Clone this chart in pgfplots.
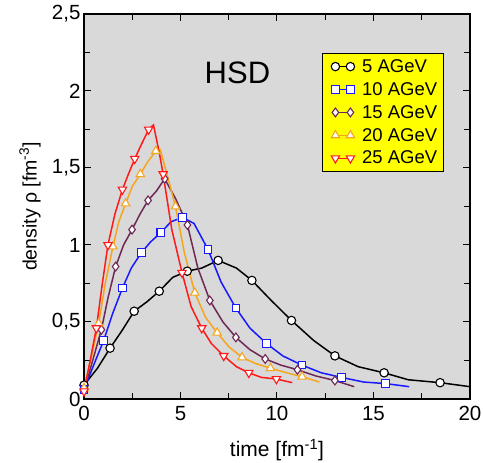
\documentclass[border=0pt]{standalone}
\usepackage{fontspec}
\setmainfont{Liberation Sans}
\usepackage{pgfplots}
\pgfplotsset{compat=1.18}
\definecolor{bgray}{RGB}{217,217,217}
\definecolor{cblue}{RGB}{25,25,255}
\definecolor{cpurple}{RGB}{110,40,85}
\definecolor{corange}{RGB}{245,165,30}
\definecolor{cred}{RGB}{255,25,25}
\definecolor{lyellow}{RGB}{255,255,0}
\begin{document}
\begin{tikzpicture}
\begin{axis}[
  at={(0,0)}, anchor=south west,
  scale only axis,
  width=386pt, height=385pt,
  xmin=0, xmax=20, ymin=0, ymax=2.5,
  xtick={0,5,10,15,20}, xticklabels={0,5,10,15,20},
  ytick={0,0.5,1,1.5,2,2.5}, yticklabels={0,{0,5},1,{1,5},2,{2,5}},
  minor x tick num=1, minor y tick num=1,
  tick align=inside,
  major tick length=7pt, minor tick length=6pt,
  every tick/.style={black, line width=1pt},
  axis line style={line width=1.5pt},
  axis background/.style={fill=bgray},
  tick label style={font=\fontsize{20.5}{24}\selectfont},
  xticklabel style={yshift=-4pt},
  xlabel={time [fm\textsuperscript{-1}]},
  ylabel={density ρ [fm\textsuperscript{-3}]},
  xlabel style={at={(axis description cs:0.5,-0.1506)}, anchor=base, font=\fontsize{21}{24}\selectfont},
  ylabel style={at={(axis description cs:-0.1399,0.5)}, anchor=center, font=\fontsize{19.5}{23}\selectfont},
  legend style={at={(0.932,0.899)}, anchor=north east, fill=lyellow, draw=black, line width=1pt,
    font=\fontsize{18.5}{21}\selectfont, row sep=4.5pt, inner xsep=4pt, inner ysep=4pt},
  legend cell align=left,
  legend image code/.code={\path (-8pt,0pt) (24pt,0pt);\draw[mark indices={1,3}] plot coordinates {(0pt,0pt) (7.5pt,0pt) (15pt,0pt)};},
  every axis plot/.append style={line width=1.5pt, mark size=4.2pt, mark options={fill=white, line width=1.1pt}},
]
\addplot[black, mark=*, mark indices={1,3,5,7,9,11,13,15,17,19,21}] coordinates {
(0,0.09) (0.7,0.2) (1.35,0.33) (2.0,0.45) (2.6,0.57) (3.25,0.63) (3.9,0.70) (4.6,0.79) (5.35,0.83) (6.1,0.85) (6.95,0.90) (7.9,0.85) (8.7,0.77) (9.7,0.64) (10.75,0.51) (11.9,0.38) (13.0,0.28) (14.2,0.21) (15.55,0.17) (16.8,0.125) (18.45,0.106) (20,0.08)};
\addlegendentry{5 AGeV}
\addplot[cblue, mark=square*, mark size=3.8pt, mark indices={1,3,5,7,9,11,13,15,17,19,21,23}] coordinates {
(0,0.06) (0.5,0.22) (1.02,0.38) (1.5,0.56) (1.99,0.72) (2.45,0.85) (2.97,0.95) (3.45,1.02) (3.98,1.08) (4.5,1.15) (5.1,1.18) (5.7,1.14) (6.43,0.97) (7.1,0.76) (7.87,0.59) (8.6,0.46) (9.46,0.36) (10.3,0.28) (11.29,0.22) (12.3,0.17) (13.35,0.14) (14.5,0.11) (15.63,0.10) (16.85,0.08)};
\addlegendentry{10 AGeV}
\addplot[cpurple, mark=diamond*, mark size=4.4pt, mark indices={1,3,5,7,9,11,13,15,17,19,21,23}] coordinates {
(0,0.06) (0.45,0.25) (0.9,0.45) (1.25,0.66) (1.64,0.86) (2.05,1.0) (2.49,1.10) (2.9,1.2) (3.32,1.29) (3.75,1.35) (4.18,1.43) (4.75,1.3) (5.36,1.13) (5.9,0.85) (6.52,0.64) (7.2,0.5) (7.87,0.40) (8.6,0.32) (9.39,0.26) (10.2,0.22) (11.06,0.19) (12.0,0.15) (13.0,0.12) (14.0,0.08)};
\addlegendentry{15 AGeV}
\addplot[corange, mark=triangle*, mark size=4.8pt, mark indices={1,3,5,7,9,11,14,16,18,20,22,24}] coordinates {
(0,0.07) (0.4,0.28) (0.76,0.49) (1.1,0.75) (1.5,0.99) (1.8,1.15) (2.16,1.27) (2.5,1.38) (2.92,1.46) (3.3,1.54) (3.72,1.61) (3.95,1.62) (4.3,1.46) (4.74,1.25) (5.2,0.95) (5.74,0.69) (6.3,0.53) (6.9,0.43) (7.5,0.34) (8.19,0.27) (8.9,0.23) (9.66,0.20) (10.5,0.17) (11.3,0.145) (12.2,0.11)};
\addlegendentry{20 AGeV}
\addplot[cred, mark=triangle*, mark size=4.8pt, mark options={fill=white, line width=1.1pt, rotate=180}, mark indices={1,3,5,7,9,11,14,16,18,20,22,24}] coordinates {
(0,0.05) (0.32,0.25) (0.64,0.46) (0.95,0.75) (1.24,1.0) (1.6,1.2) (1.99,1.36) (2.3,1.46) (2.63,1.56) (3.0,1.66) (3.35,1.75) (3.6,1.78) (3.9,1.6) (4.1,1.46) (4.55,1.1) (5.08,0.82) (5.55,0.6) (6.1,0.46) (6.6,0.36) (7.24,0.28) (7.9,0.21) (8.54,0.17) (9.2,0.14) (9.97,0.13) (10.79,0.106)};
\addlegendentry{25 AGeV}
\node[font=\fontsize{31}{36}\selectfont] at (axis cs:7.95,2.117) {HSD};
\end{axis}
\pgfresetboundingbox
\path[use as bounding box] (-84pt,-64pt) rectangle (399pt,399pt);
\end{tikzpicture}
\end{document}
